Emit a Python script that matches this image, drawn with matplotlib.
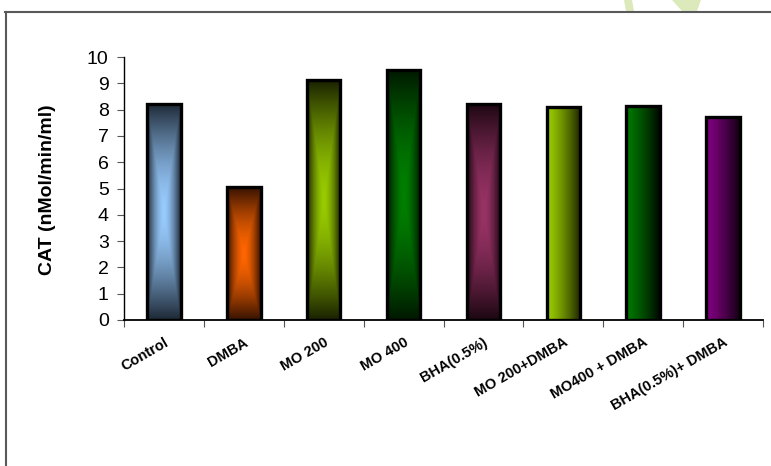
import matplotlib.pyplot as plt
import numpy as np
from matplotlib.patches import Rectangle, Polygon
from matplotlib.lines import Line2D
from matplotlib.colors import to_rgb

plt.rcParams['font.family'] = ['Liberation Sans', 'DejaVu Sans']

groups = ['Control', 'DMBA', 'MO 200', 'MO 400', 'BHA(0.5%)',
          'MO 200+DMBA', 'MO400 + DMBA', 'BHA(0.5%)+ DMBA']
cat_values = [8.22, 5.05, 9.12, 9.52, 8.22, 8.09, 8.14, 7.70]

# light / dark colour pair of every bar
light_colors = ['#99ccff', '#ff6600', '#99cc00', '#008000', '#993366',
                '#99cc00', '#007800', '#800080']
dark_colors = ['#1d2835', '#361200', '#1a2200', '#001800', '#1c0712',
               '#1e2400', '#000800', '#120012']
# 'center' = shaded from the middle outwards, 'horiz' = light left to dark right
fill_style = ['center'] * 5 + ['horiz'] * 3

W, H = 771, 466
fig = plt.figure(figsize=(W / 100, H / 100), dpi=100)
ax = fig.add_axes([124 / W, (H - 320) / H, 639 / W, 263 / H])

bar_w = 0.42
ny, nx = 200, 60
yy, xx = np.mgrid[0:1:ny * 1j, 0:1:nx * 1j]

for i, (v, lc, dc, st) in enumerate(zip(cat_values, light_colors, dark_colors, fill_style)):
    lc, dc = np.array(to_rgb(lc)), np.array(to_rgb(dc))
    if st == 'center':
        t = np.maximum(np.abs(xx - 0.5) / 0.5, np.abs(yy - 0.5) / 0.5) ** 1.6
    else:
        t = xx ** 1.3
    img = lc[None, None, :] * (1 - t[..., None]) + dc[None, None, :] * t[..., None]
    x0 = i - bar_w / 2
    rect = Rectangle((x0, 0), bar_w, v, facecolor='none', edgecolor='black',
                     linewidth=2.4, zorder=3)
    ax.add_patch(rect)
    im = ax.imshow(img, extent=(x0, x0 + bar_w, 0, v), aspect='auto',
                   origin='lower', zorder=2, interpolation='bilinear')
    im.set_clip_path(rect)

ax.set_xlim(-0.5, len(groups) - 0.5)
ax.set_ylim(0, 10)
ax.set_yticks(range(0, 11))
ax.tick_params(axis='y', labelsize=14, length=5, width=0.8, color='#555555', pad=6)

ax.set_xticks(range(len(groups)))
ax.set_xticklabels(groups, rotation=30, ha='right', va='top', rotation_mode='anchor',
                   fontsize=10.5, fontweight='bold')
ax.set_xticks(np.arange(-0.5, len(groups)), minor=True)
ax.tick_params(axis='x', which='major', length=0, pad=11)
ax.tick_params(axis='x', which='minor', length=5, width=0.8, color='#555555')

for s in ['top', 'right']:
    ax.spines[s].set_visible(False)
ax.spines['left'].set_linewidth(1.0)
ax.spines['bottom'].set_linewidth(1.3)

fig.text(48 / W, 1 - 190 / H, 'CAT (nMol/min/ml)', rotation=90, fontsize=14,
         fontweight='bold', ha='center', va='center')

# outer frame (top and left edges only)
fig.add_artist(Line2D([5 / W, 1], [1 - 12 / H] * 2, transform=fig.transFigure,
                      color='#595959', lw=1.5))
fig.add_artist(Line2D([6 / W] * 2, [0, 1 - 12 / H], transform=fig.transFigure,
                      color='#595959', lw=1.5))

# pale green leaf shapes peeking above the frame
leaf_a = [(624, 0), (632, 0), (634, 11), (626, 11)]
leaf_b = [(672, 0), (701, 0), (697, 11), (682, 11)]
for pts in (leaf_a, leaf_b):
    fig.add_artist(Polygon([(x / W, 1 - y / H) for x, y in pts], closed=True,
                           transform=fig.transFigure, facecolor='#dce9bb',
                           edgecolor='none'))

fig.savefig('out.png', dpi=100)
